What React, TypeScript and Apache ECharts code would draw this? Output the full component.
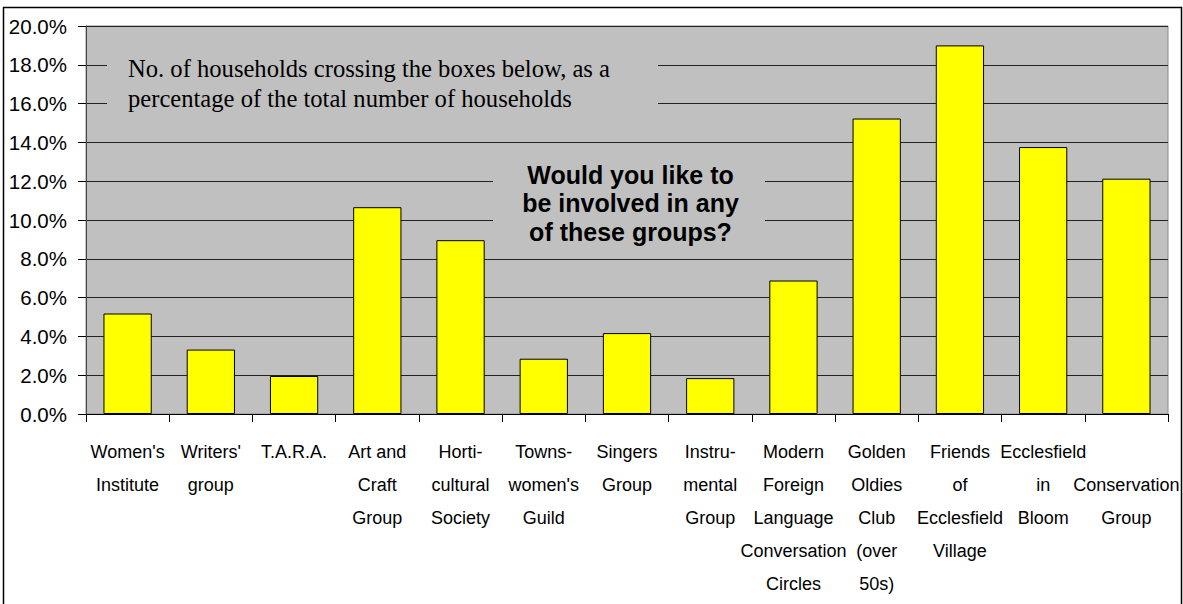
import React, { useEffect, useRef } from "react";
import * as echarts from "echarts";

const categories: string[] = [
  "Women's\nInstitute",
  "Writers'\ngroup",
  "T.A.R.A.",
  "Art and\nCraft\nGroup",
  "Horti-\ncultural\nSociety",
  "Towns-\nwomen's\nGuild",
  "Singers\nGroup",
  "Instru-\nmental\nGroup",
  "Modern\nForeign\nLanguage\nConversation\nCircles",
  "Golden\nOldies\nClub\n(over\n50s)",
  "Friends\nof\nEcclesfield\nVillage",
  "Ecclesfield\nin\nBloom",
  " \nConservation\nGroup",
];

const percentages: number[] = [5.18, 3.32, 1.96, 10.66, 8.96, 2.85, 4.17, 1.85, 6.88, 15.23, 19.0, 13.76, 12.13];

const yTicks = { min: 0, max: 20, interval: 2 };

const noteLines: string[] = [
  "No. of households crossing the boxes below, as a",
  "percentage of the total number of households",
];

const questionLines: string[] = ["Would you like to", "be involved in any", "of these groups?"];

export default function App() {
  const ref = useRef<HTMLDivElement>(null);

  useEffect(() => {
    if (!ref.current) return;
    const chart = echarts.init(ref.current, null, { renderer: "svg" });
    const graphics: any[] = [
      {
        type: "rect",
        shape: { x: 3.5, y: 7.5, width: 1178, height: 600 },
        style: { fill: "none", stroke: "#000", lineWidth: 1.5 },
        z: 100,
      },
      {
        type: "rect",
        shape: { x: 107, y: 42, width: 551, height: 82 },
        style: { fill: "#C0C0C0" },
        z: 50,
      },
      {
        type: "rect",
        shape: { x: 493, y: 155, width: 272, height: 93 },
        style: { fill: "#C0C0C0" },
        z: 50,
      },
    ];
    noteLines.forEach((t, i) => {
      graphics.push({
        type: "text",
        x: 128,
        y: 68 + i * 30,
        z: 60,
        style: {
          text: t,
          font: "24.6px 'Liberation Serif', 'Times New Roman', serif",
          fill: "#000",
          align: "left",
          verticalAlign: "middle",
        },
      });
    });
    questionLines.forEach((t, i) => {
      graphics.push({
        type: "text",
        x: 630.5,
        y: 174.5 + i * 28.5,
        z: 60,
        style: {
          text: t,
          font: "bold 25px 'Liberation Sans', Arial, sans-serif",
          fill: "#000",
          align: "center",
          verticalAlign: "middle",
        },
      });
    });

    chart.setOption({
      animation: false,
      backgroundColor: "#fff",
      grid: {
        left: 86,
        right: 15,
        top: 26,
        bottom: 190,
        show: true,
        backgroundColor: "#C0C0C0",
        borderColor: "#8a8a8a",
        borderWidth: 1,
      },
      xAxis: {
        type: "category",
        data: categories,
        axisLine: { show: true, lineStyle: { color: "#000", width: 1 } },
        axisTick: { show: true, length: 8, lineStyle: { color: "#000" } },
        axisLabel: {
          interval: 0,
          margin: 21,
          fontSize: 18,
          lineHeight: 33,
          color: "#000",
          fontFamily: "'Liberation Sans', Arial, sans-serif",
        },
      },
      yAxis: {
        type: "value",
        min: yTicks.min,
        max: yTicks.max,
        interval: yTicks.interval,
        axisLine: { show: true, lineStyle: { color: "#444", width: 1 } },
        axisTick: { show: true, length: 8, lineStyle: { color: "#000" } },
        splitLine: { show: true, lineStyle: { color: "#222", width: 1 } },
        axisLabel: {
          margin: 19,
          fontSize: 20.5,
          color: "#000",
          fontFamily: "'Liberation Sans', Arial, sans-serif",
          formatter: (v: number) => v.toFixed(1) + "%",
        },
      },
      series: [
        {
          type: "bar",
          data: percentages,
          barCategoryGap: "42%",
          itemStyle: { color: "#FFFF00", borderColor: "#000", borderWidth: 1 },
        },
      ],
      graphic: graphics,
    });
    return () => chart.dispose();
  }, []);

  return (
    <div
      ref={ref}
      style={{ position: "absolute", left: 0, top: 0, width: 1183, height: 604 }}
    />
  );
}
